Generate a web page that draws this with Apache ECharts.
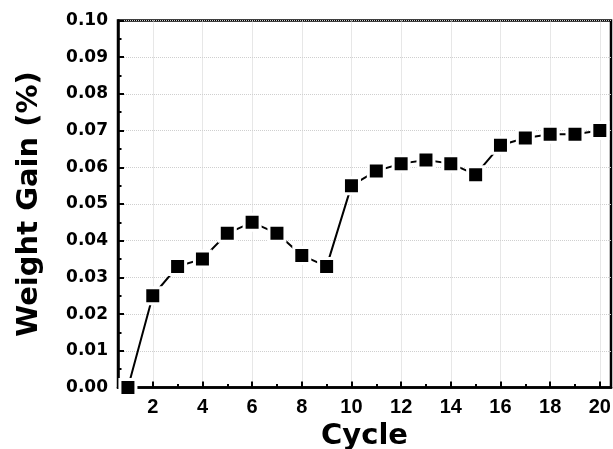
<!DOCTYPE html>
<html>
<head>
<meta charset="utf-8">
<script src="https://cdn.jsdelivr.net/npm/echarts@6/dist/echarts.min.js"></script>
<style>html,body{margin:0;padding:0;background:#fff;}#c{width:613px;height:449px;}</style>
</head>
<body>
<div id="c"></div>
<script>
var cycles = [1,2,3,4,5,6,7,8,9,10,11,12,13,14,15,16,17,18,19,20];
var weightGain = [0.000,0.025,0.033,0.035,0.042,0.045,0.042,0.036,0.033,0.055,0.059,0.061,0.062,0.061,0.058,0.066,0.068,0.069,0.069,0.070];
var xMajorTicks = [2,4,6,8,10,12,14,16,18,20];
var xMinorTicks = [1,3,5,7,9,11,13,15,17,19];
var xTitle = 'Cycle';
var yTitle = 'Weight Gain (%)';

var FONT = 'DejaVu Sans';
var chart = echarts.init(document.getElementById('c'), null, {renderer:'canvas'});
var xMin = 0.6, xMax = 20.45;
chart.setOption({
  animation: false,
  backgroundColor: '#fff',
  grid: {left: 118, right: 2, top: 20.5, bottom: 61.5, show: true, borderColor: '#000', borderWidth: 2.5,
         containLabel: false, outerBoundsMode: 'none'},
  xAxis: [
    {
      type: 'value', min: xMin, max: xMax, position: 'bottom', z: 3,
      name: xTitle, nameLocation: 'middle', nameGap: 34,
      nameTextStyle: {fontFamily: FONT, fontWeight: 'bold', fontSize: 29, color: '#000'},
      axisLine: {show: true, onZero: false, lineStyle: {color: '#000', width: 2.5}},
      axisTick: {show: true, inside: true, length: 6, customValues: xMajorTicks, lineStyle: {color: '#000', width: 2}},
      axisLabel: {show: true, customValues: xMajorTicks, margin: 10, fontFamily: 'Liberation Sans', fontWeight: 'bold', fontSize: 20, color: '#000'},
      splitLine: {show: true, lineStyle: {color: '#cfcfcf', width: 1, type: 'dotted'}}
    },
    {
      type: 'value', min: xMin, max: xMax, position: 'bottom', z: 3,
      axisLine: {show: false, onZero: false},
      axisTick: {show: true, inside: true, length: 3.5, customValues: xMinorTicks, lineStyle: {color: '#000', width: 2}},
      axisLabel: {show: false},
      splitLine: {show: false}
    }
  ],
  yAxis: {
    type: 'value', min: 0, max: 0.1, interval: 0.01, z: 3,
    name: yTitle, nameLocation: 'middle', nameGap: 74,
    nameTextStyle: {fontFamily: FONT, fontWeight: 'bold', fontSize: 29, color: '#000'},
    axisLine: {show: true, lineStyle: {color: '#000', width: 2.5}},
    axisTick: {show: true, inside: true, length: 6, lineStyle: {color: '#000', width: 2}},
    minorTick: {show: true, splitNumber: 2, length: 3.5, lineStyle: {color: '#000', width: 2}},
    axisLabel: {margin: 10, fontFamily: FONT, fontWeight: 'bold', fontSize: 17, color: '#000',
      formatter: function (v) { return v.toFixed(2); }},
    splitLine: {show: true, lineStyle: {color: '#cfcfcf', width: 1, type: 'dotted'}}
  },
  series: [{
    type: 'line', xAxisIndex: 0,
    data: cycles.map(function (c, i) { return [c, weightGain[i]]; }),
    symbol: 'rect', symbolSize: 16,
    itemStyle: {color: '#000', borderColor: '#fff', borderWidth: 3},
    lineStyle: {color: '#000', width: 2},
    emphasis: {disabled: true},
    clip: false, z: 5
  }]
});
</script>
</body>
</html>
